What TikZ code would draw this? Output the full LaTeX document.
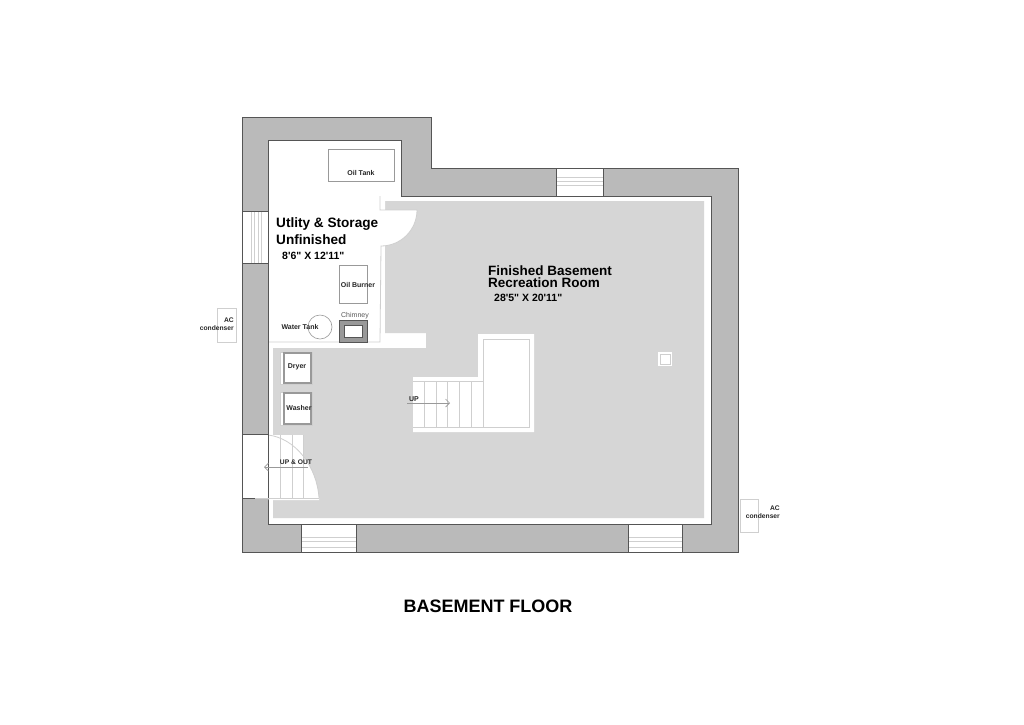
\documentclass[tikz,border=0pt]{standalone}
\usepackage{fontspec}
\usetikzlibrary{arrows.meta}
\newfontfamily\lib{Liberation Sans}
\definecolor{wallc}{HTML}{BABABA}
\definecolor{floorc}{HTML}{D6D6D6}
\definecolor{linec}{HTML}{555555}
\definecolor{thinc}{HTML}{CFCFCF}
\definecolor{midc}{HTML}{999999}
\tikzset{
  wallline/.style={draw=linec,line width=1pt},
  thin line/.style={draw=thinc,line width=0.8pt},
  fixture/.style={draw=midc,line width=0.6pt},
  lab/.style={font=\lib\bfseries\fontsize{7}{8}\selectfont,inner sep=0pt,text=black!85},
  smalllab/.style={font=\lib\bfseries\fontsize{6.7}{8}\selectfont,inner sep=0pt,text=black!85},
  appliance/.style={draw=midc,line width=1.4pt},
  title/.style={font=\lib\bfseries\fontsize{13.6}{15}\selectfont,inner sep=0pt,anchor=base west},
  sizes/.style={font=\lib\bfseries\fontsize{10.5}{11}\selectfont,inner sep=0pt,anchor=base west},
  stair arrow/.style={draw=midc,line width=0.7pt,-{Straight Barb[length=4pt,width=8pt]}}
}
\begin{document}
\begin{tikzpicture}[x=1pt,y=-1pt]
\useasboundingbox (0,0) rectangle (1024,724);
% walls
\fill[wallc] (242,117) -- (431,117) -- (431,168) -- (738,168) -- (738,552) -- (242,552) -- cycle;
\fill[white] (268,140) -- (401,140) -- (401,196) -- (711,196) -- (711,524) -- (268,524) -- cycle;
% floor
\fill[floorc] (385,201) -- (704,201) -- (704,518) -- (273,518) -- (273,348) -- (426,348) -- (426,333) -- (385,333) -- cycle;
% door swing
\fill[white] (380,196) -- (385,196) -- (385,210) -- (417,210) arc[start angle=0,end angle=90,radius=36] -- cycle;
\draw[thin line] (380,196) -- (380,210) -- (417,210) arc[start angle=0,end angle=90,radius=36] -- (380,342) -- (268,342);
% windows
\fill[white] (556,168) rectangle (603,196);
\fill[white] (242,211) rectangle (268,263);
\fill[white] (301,524) rectangle (356,552);
\fill[white] (628,524) rectangle (682,552);
\fill[white] (242,434) rectangle (268,498);
\foreach \yy in {177.5,181.5,185.5} \draw[thin line] (556,\yy) -- (603,\yy);
\foreach \xx in {251,254,258,261} \draw[thin line] (\xx,211) -- (\xx,263);
\foreach \yy in {537,541,547} {
  \draw[thin line] (301,\yy) -- (356,\yy);
  \draw[thin line] (628,\yy) -- (682,\yy);
}
% wall outlines
\draw[wallline] (242,117) -- (431,117) -- (431,168) -- (738,168) -- (738,552) -- (242,552) -- cycle;
\draw[wallline] (268,140) -- (401,140) -- (401,196) -- (711,196) -- (711,524) -- (268,524) -- cycle;
\draw[wallline] (556,168) -- (556,196) (603,168) -- (603,196);
\draw[wallline] (242,211) -- (268,211) (242,263) -- (268,263);
\draw[wallline] (301,524) -- (301,552) (356,524) -- (356,552);
\draw[wallline] (628,524) -- (628,552) (682,524) -- (682,552);
\draw[wallline] (242,434) -- (268,434) (242,498) -- (268,498);
% basement stair to outside
\fill[white] (268.5,435) -- (303,435) -- (303,456) .. controls (312,468) and (318,483) .. (319,498) -- (319,500) -- (268.5,500) -- cycle;
\draw[thin line] (255,498) -- (319,498);
\foreach \xx in {280,292,303} \draw[thin line] (\xx,435) -- (\xx,498);
\draw[thin line] (268,435) .. controls (295,438) and (317,466) .. (319,498);
\draw[wallline] (268,434) -- (268,498);
% appliances
\fill[white] (280,352) rectangle (312,384);
\fill[white] (280,392) rectangle (312,425);
\draw[thin line] (280,352) rectangle (312,384);
\draw[thin line] (280,392) rectangle (312,425);
\draw[appliance] (284,353) rectangle (311,383);
\draw[appliance] (284,393) rectangle (311,424);
% main stair
\fill[white] (413,377) -- (478,377) -- (478,334) -- (534,334) -- (534,432) -- (413,432) -- cycle;
\draw[thin line] (413,381) -- (483,381) (413,427) -- (529,427) -- (529,339) -- (483,339) -- (483,427);
\foreach \xx in {424,436,447,459,471} \draw[thin line] (\xx,381) -- (\xx,427);
% small square
\fill[white] (658,352) rectangle (672,366);
\draw[thin line] (660,354) rectangle (670,364);
% fixtures
\draw[fixture] (328,149) rectangle (394,181);
\draw[fixture] (339,265) rectangle (367,303);
\draw[fixture] (320,327) circle[radius=12];
\fill[midc] (339,320) rectangle (367,342);
\fill[white] (344,325) rectangle (362,337);
\draw[draw=linec,line width=0.8pt] (339,320) rectangle (367,342);
\draw[draw=linec,line width=0.8pt] (344,325) rectangle (362,337);
% AC units
\draw[thin line] (217,308) rectangle (236,342);
\draw[thin line] (740,499) rectangle (758,532);
% arrows
\coordinate (upA) at (407,403);
\coordinate (upB) at (450,403);
\coordinate (outA) at (308,467);
\coordinate (outB) at (264,467);
\draw[stair arrow] (upA) -- (upB);
\draw[stair arrow] (outA) -- (outB);
% labels
\node[lab] (oiltank) at (361,172.5) {Oil Tank};
\node[lab] (burner) at (358,285) {Oil Burner};
\node[lab] (water) at (300,327) {Water Tank};
\node[lab,text=black!65,font=\lib\fontsize{7}{8}\selectfont] (chim) at (355,316) {Chimney};
\node[lab] (dryer) at (297,366.5) {Dryer};
\node[lab] (washer) at (299,408) {Washer};
\node[lab] (up) at (414,399) {UP};
\node[smalllab] (upout) at (296,462) {UP \& OUT};
\node[smalllab,anchor=east] (ac1a) at (234,320) {AC};
\node[smalllab,anchor=east] (ac1b) at (234,328) {condenser};
\node[smalllab,anchor=east] (ac2a) at (780,508) {AC};
\node[smalllab,anchor=east] (ac2b) at (780,516) {condenser};
\node[title] (util1) at (276,227.5) {Utlity \& Storage};
\node[title] (util2) at (276,244) {Unfinished};
\node[sizes] (util3) at (282,259) {8'6" X 12'11"};
\node[title,font=\lib\bfseries\fontsize{13.5}{14}\selectfont] (rec1) at (488,275) {Finished Basement};
\node[title,font=\lib\bfseries\fontsize{13.5}{14}\selectfont] (rec2) at (488,287) {Recreation Room};
\node[sizes] (rec3) at (494,301) {28'5" X 20'11"};
\node[font=\lib\bfseries\fontsize{18}{20}\selectfont,inner sep=0pt] (floor) at (488,606.5) {BASEMENT FLOOR};
\end{tikzpicture}
\end{document}
